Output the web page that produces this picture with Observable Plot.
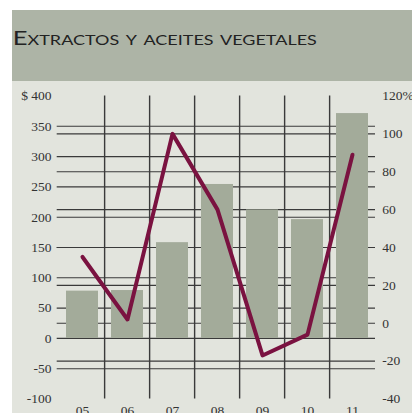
<!DOCTYPE html>
<html>
<head>
<meta charset="utf-8">
<script src="https://cdn.jsdelivr.net/npm/d3@7"></script>
<script src="https://cdn.jsdelivr.net/npm/@observablehq/plot@0.6"></script>
<style>
  html, body { margin: 0; padding: 0; background: #ffffff; }
  #wrap { position: absolute; left: 12px; top: 10px; width: 400px; height: 403px; background: #e2e4dd; overflow: hidden; }
  #hdr { height: 71px; background: #adb4a6; }
  #hdr svg { display: block; }
  #chart svg { display: block; }
</style>
</head>
<body>
<div id="wrap">
  <div id="hdr">
    <svg width="400" height="71">
      <text x="0.8" y="35" fill="#222" font-family="Lato" font-weight="400" font-size="18.5" style="font-variant: small-caps" textLength="304" lengthAdjust="spacingAndGlyphs">Extractos y aceites vegetales</text>
    </svg>
  </div>
  <div id="chart"></div>
</div>
<script>
const years = ["05", "06", "07", "08", "09", "10", "11"];
const exportsValues = [78, 79, 158, 254, 212, 196, 371];
const growthValues = [35, 2, 100, 60, -17, -6, 89];

const leftTicks = [400, 350, 300, 250, 200, 150, 100, 50, 0, -50, -100];
const leftLabels = ["$ 400", "350", "300", "250", "200", "150", "100", "50", "0", "-50", "-100"];
const leftGrid = [350, 300, 250, 200, 150, 100, 50, 0, -50];

const rightTicks = [120, 100, 80, 60, 40, 20, 0, -20, -40];
const rightLabels = ["120%", "100", "80", "60", "40", "20", "0", "-20", "-40"];
const rightGrid = [100, 80, 60, 40, 20, 0, -20];

// right axis (percent) mapped onto the left axis domain
const toLeft = r => (r + 40) * 500 / 160 - 100;

const data = years.map((y, i) => ({year: y, value: exportsValues[i], growth: growthValues[i]}));

const xRange = [44.7, 365];
const padIn = 0.28, padOut = 0.14;
const step = (xRange[1] - xRange[0]) / (years.length - padIn + 2 * padOut);

const chart = Plot.plot({
  width: 400,
  height: 340,
  marginLeft: 44.7,
  marginRight: 37,
  marginTop: 0,
  marginBottom: 19,
  style: {background: "transparent", fontFamily: "Liberation Serif", fontSize: "13.5px", color: "#333"},
  x: {domain: years, range: xRange, paddingInner: padIn, paddingOuter: padOut, axis: null},
  y: {domain: [-100, 400], range: [317.5, 14.5], axis: null},
  marks: [
    Plot.ruleY(leftGrid, {stroke: "#3a3a3a", strokeWidth: 1.1}),
    Plot.ruleY(rightGrid.map(toLeft), {stroke: "#3a3a3a", strokeWidth: 1.1}),
    Plot.ruleX(years.slice(1), {x: d => d, y1: -100, y2: 400, dx: -step / 2, stroke: "#3a3a3a", strokeWidth: 1.4}),
    Plot.barY(data, {x: "year", y: "value", fill: "#a3ab9a"}),
    Plot.line(data, {x: "year", y: d => toLeft(d.growth), stroke: "#7a1240", strokeWidth: 4, strokeLinecap: "round", strokeLinejoin: "round"}),
    Plot.axisY(leftTicks, {anchor: "left", label: null, tickSize: 0, tickPadding: 5.7, tickFormat: (d, i) => leftLabels[i], fill: "#333"}),
    Plot.axisY(rightTicks.map(toLeft), {anchor: "right", label: null, tickSize: 0, tickPadding: 6.7, tickFormat: (d, i) => rightLabels[i], fill: "#333"}),
    Plot.axisX(years, {anchor: "bottom", label: null, tickSize: 0, tickPadding: 3, fill: "#333"})
  ]
});
document.getElementById("chart").appendChild(chart);
</script>
</body>
</html>
